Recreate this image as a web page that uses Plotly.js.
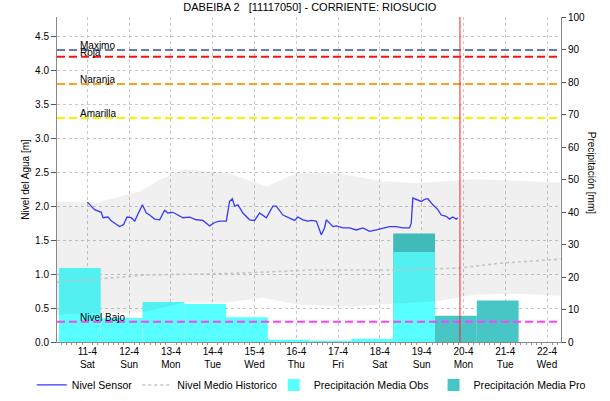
<!DOCTYPE html>
<html>
<head>
<meta charset="utf-8">
<script src="https://cdn.plot.ly/plotly-3.0.1.min.js"></script>
<style>html,body{margin:0;padding:0;background:#fff}#chart{width:610px;height:401px}</style>
</head>
<body>
<div id="chart"></div>
<script>
// ---- data ----
const sensorTime = ["2020-04-11 00:00","2020-04-11 04:11","2020-04-11 08:00","2020-04-11 09:00","2020-04-11 11:50","2020-04-11 13:50","2020-04-11 18:30","2020-04-11 20:50","2020-04-11 22:45","2020-04-12 01:15","2020-04-12 03:10","2020-04-12 05:40","2020-04-12 07:35","2020-04-12 09:52","2020-04-12 11:46","2020-04-12 14:38","2020-04-12 17:31","2020-04-12 20:23","2020-04-12 22:16","2020-04-13 01:09","2020-04-13 04:01","2020-04-13 06:53","2020-04-13 10:44","2020-04-13 14:35","2020-04-13 18:22","2020-04-13 22:13","2020-04-14 01:05","2020-04-14 03:58","2020-04-14 07:48","2020-04-14 09:42","2020-04-14 11:15","2020-04-14 12:34","2020-04-14 14:28","2020-04-14 17:20","2020-04-14 21:11","2020-04-15 00:03","2020-04-15 02:55","2020-04-15 06:46","2020-04-15 10:34","2020-04-15 12:31","2020-04-15 16:18","2020-04-15 20:09","2020-04-15 23:01","2020-04-16 00:55","2020-04-16 03:47","2020-04-16 06:40","2020-04-16 08:37","2020-04-16 11:28","2020-04-16 14:21","2020-04-16 16:14","2020-04-16 17:13","2020-04-16 19:07","2020-04-16 21:01","2020-04-16 22:58","2020-04-17 02:45","2020-04-17 06:36","2020-04-17 10:26","2020-04-17 14:14","2020-04-17 18:05","2020-04-17 21:56","2020-04-18 01:43","2020-04-18 05:34","2020-04-18 09:24","2020-04-18 13:12","2020-04-18 17:03","2020-04-18 18:01","2020-04-18 18:56","2020-04-18 20:54","2020-04-18 23:46","2020-04-19 01:39","2020-04-19 03:33","2020-04-19 06:26","2020-04-19 09:18","2020-04-19 11:15","2020-04-19 14:08","2020-04-19 16:00","2020-04-19 17:54","2020-04-19 19:52","2020-04-19 20:47"];
const sensorLevel = [2.06,1.95,1.91,1.83,1.84,1.78,1.70,1.73,1.84,1.83,1.78,1.92,2.02,1.90,1.87,1.81,1.80,1.94,1.90,1.91,1.87,1.83,1.84,1.80,1.79,1.71,1.76,1.78,1.78,2.07,2.11,2.00,2.02,1.90,1.80,1.79,1.90,1.83,2.00,2.00,1.87,1.83,1.79,1.84,1.80,1.78,1.79,1.78,1.58,1.68,1.80,1.75,1.70,1.71,1.68,1.68,1.65,1.68,1.63,1.65,1.68,1.70,1.70,1.68,1.68,1.75,2.12,2.10,2.07,2.10,2.11,2.02,1.95,1.87,1.85,1.81,1.84,1.81,1.83];

const medianTime = ["2020-04-10 06:22","2020-04-11 07:04","2020-04-12 11:46","2020-04-13 16:35","2020-04-14 21:11","2020-04-16 07:41","2020-04-18 11:23","2020-04-19 21:49","2020-04-20 20:40","2020-04-22 07:45"];
const medianLevel = [0.88,0.93,0.99,1.00,1.02,1.06,1.06,1.09,1.16,1.22];

const bandUpperTime = ["2020-04-10 06:22","2020-04-11 05:20","2020-04-12 06:12","2020-04-12 17:41","2020-04-13 07:08","2020-04-14 00:20","2020-04-14 09:52","2020-04-15 06:56","2020-04-16 00:10","2020-04-17 01:02","2020-04-18 00:00","2020-04-18 21:04","2020-04-19 20:02","2020-04-20 07:31","2020-04-21 10:20","2020-04-22 07:45"];
const bandUpper = [2.07,2.05,2.22,2.39,2.54,2.51,2.48,2.29,2.49,2.48,2.37,2.34,2.38,2.40,2.37,2.35];
const bandLowerTime = ["2020-04-10 06:22","2020-04-11 07:04","2020-04-12 06:36","2020-04-13 07:52","2020-04-14 07:59","2020-04-15 04:39","2020-04-16 01:53","2020-04-17 06:36","2020-04-18 05:34","2020-04-19 08:32","2020-04-20 07:31","2020-04-21 08:12","2020-04-22 07:45"];
const bandLower = [0.40,0.43,0.43,0.58,0.58,0.65,0.55,0.52,0.56,0.60,0.70,0.71,0.68];

const obsTime = ["2020-04-10 19:40","2020-04-11 19:40","2020-04-12 19:40","2020-04-13 19:40","2020-04-14 19:40","2020-04-15 19:40","2020-04-16 19:40","2020-04-17 19:40","2020-04-18 19:40"];
const obsPrecip = [22.8,7.4,12.3,11.7,7.6,0.7,0.4,1.0,27.7];
const proTime = ["2020-04-18 19:40","2020-04-19 19:40","2020-04-20 19:40"];
const proPrecip = [33.4,8.1,12.8];

const thresholdNames = ["Maximo","Roja","Naranja","Amarilla","Nivel Bajo"];
const thresholdLevels = [4.3,4.2,3.8,3.3,0.3];
const thresholdColors = ["#6b7aa8","#ff1010","#ffa01e","#f5f500","#ff40ff"];

const nowTime = "2020-04-19 22:00";
const xRange = ["2020-04-10 06:33","2020-04-22 08:02"];

// ---- chart ----
const DAY = 86400000;
const font = "Liberation Sans, Arial, sans-serif";
const traces = [
  {type:"bar", name:"Precipitación Media Pro", x:proTime, y:proPrecip, width:DAY, yaxis:"y",
   marker:{color:"rgb(72,198,198)", line:{width:0}}, legend:"legend2", legendrank:2},
  {type:"bar", name:"Precipitación Media Obs", x:obsTime, y:obsPrecip, width:DAY, yaxis:"y",
   marker:{color:"rgb(88,255,255)", line:{width:0}}, legend:"legend2", legendrank:1},
  {type:"scatter", mode:"lines", x:bandLowerTime, y:bandLower, yaxis:"y2", line:{width:0, color:"rgba(0,0,0,0)"},
   showlegend:false, hoverinfo:"skip"},
  {type:"scatter", mode:"lines", x:bandUpperTime, y:bandUpper, yaxis:"y2", line:{width:0, color:"rgba(0,0,0,0)"},
   fill:"tonexty", fillcolor:"rgba(0,0,0,0.06)", showlegend:false, hoverinfo:"skip"},
  {type:"scatter", mode:"lines", name:"Nivel Medio Historico", x:medianTime, y:medianLevel, yaxis:"y2",
   line:{color:"#c4c4c4", width:1.6, dash:"dot"}, legend:"legend", legendrank:2},
  {type:"scatter", mode:"lines", name:"Nivel Sensor", x:sensorTime, y:sensorLevel, yaxis:"y2",
   line:{color:"rgb(55,55,255)", width:1.3}, legend:"legend", legendrank:1}
];

const shapes = thresholdLevels.map((v,i)=>({type:"line", xref:"paper", x0:0, x1:1, yref:"y2", y0:v, y1:v,
  line:{color:thresholdColors[i], width:2, dash:"8px,4px"}, layer:"above"}));
shapes.push({type:"line", xref:"x", x0:nowTime, x1:nowTime, yref:"paper", y0:0, y1:1,
  line:{color:"#ff2020", width:1}, layer:"above"});

const annotations = thresholdLevels.map((v,i)=>({xref:"paper", x:0.042, xanchor:"left", yref:"y2", y:v,
  yanchor:"bottom", yshift:-3, text:thresholdNames[i], showarrow:false, font:{family:font, size:10, color:"#000"}}));
annotations.push({xref:"paper", x:1.062, xanchor:"center", yref:"paper", y:0.52, yanchor:"middle",
  text:"Precipitación [mm]", textangle:90, showarrow:false, font:{family:font, size:10, color:"#000"}});

const legendCommon = {orientation:"h", yref:"container", yanchor:"middle", y:0.04, font:{family:font, size:10.6},
  itemwidth:30, traceorder:"normal", bgcolor:"rgba(0,0,0,0)", borderwidth:0};

const layout = {
  width:610, height:401,
  margin:{l:57, r:49, t:17, b:59},
  paper_bgcolor:"#fff", plot_bgcolor:"#fff",
  font:{family:font, size:10, color:"#000"},
  title:{text:"DABEIBA 2   [11117050] - CORRIENTE: RIOSUCIO", x:0.508, xanchor:"center", y:0.982, yanchor:"middle",
    font:{family:font, size:11, color:"#000"}},
  barmode:"overlay",
  showlegend:true,
  legend:Object.assign({}, legendCommon, {x:-0.05, xanchor:"left"}),
  legend2:Object.assign({}, legendCommon, {x:0.43, xanchor:"left"}),
  xaxis:{type:"date", range:xRange, tick0:"2020-04-11", dtick:DAY, tickformat:"%-d-%-m<br>%a",
    showgrid:true, gridcolor:"#c8c8c8", griddash:"dot", gridwidth:1,
    showline:true, linecolor:"#888", linewidth:1, ticks:"", zeroline:false,
    minor:{dtick:3*3600000, ticks:"outside", ticklen:2, tickcolor:"#999", showgrid:false},
    tickfont:{family:font, size:10}},
  yaxis:{side:"right", range:[0,100], dtick:10, showgrid:false, zeroline:false,
    showline:true, linecolor:"#888", ticks:"outside", ticklen:4, tickcolor:"#555",
    tickfont:{family:font, size:10}},
  yaxis2:{overlaying:"y", side:"left", range:[0,4.786], dtick:0.5, tickformat:".1f", anchor:"x",
    showgrid:true, gridcolor:"#c8c8c8", griddash:"dot", gridwidth:1, zeroline:false,
    showline:true, linecolor:"#888", ticks:"outside", ticklen:5, tickcolor:"#555",
    title:{text:"Nivel del Agua [m]", font:{family:font, size:10}, standoff:3},
    tickfont:{family:font, size:10}},
  shapes:shapes,
  annotations:annotations
};

Plotly.newPlot("chart", traces, layout, {displayModeBar:false, staticPlot:true});
</script>
</body>
</html>
